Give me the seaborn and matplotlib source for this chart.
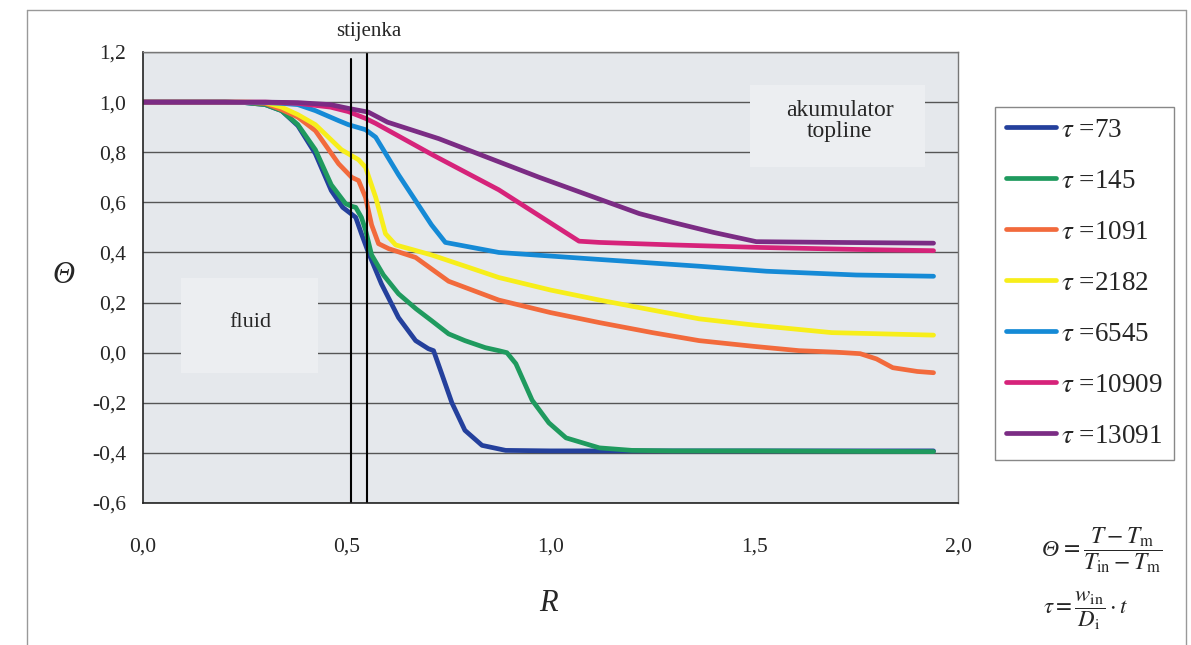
import numpy as np
import pandas as pd
import matplotlib
matplotlib.use("Agg")
import matplotlib.pyplot as plt
from matplotlib.ticker import FuncFormatter
from matplotlib.lines import Line2D
from matplotlib.patches import Rectangle
import seaborn as sns

# --- data ---
taus = [73, 145, 1091, 2182, 6545, 10909, 13091]

r_73 = [0, 0.1, 0.2, 0.25, 0.30, 0.34, 0.38, 0.423, 0.462, 0.49, 0.51, 0.522, 0.536, 0.553,
        0.585, 0.627, 0.669, 0.70, 0.713, 0.733, 0.758, 0.79, 0.832, 0.89, 1.0, 1.5, 1.94]
t_73 = [1.0, 1.0, 1.0, 0.998, 0.99, 0.966, 0.906, 0.794, 0.647, 0.58, 0.555, 0.54, 0.475, 0.40,
        0.275, 0.14, 0.048, 0.016, 0.008, -0.084, -0.2, -0.31, -0.37, -0.39, -0.392, -0.392, -0.392]

r_145 = [0, 0.2, 0.25, 0.30, 0.34, 0.38, 0.423, 0.462, 0.497, 0.51, 0.522, 0.536, 0.546, 0.561,
         0.59, 0.627, 0.67, 0.708, 0.75, 0.79, 0.84, 0.873, 0.893, 0.915, 0.955, 0.996, 1.038,
         1.12, 1.2, 1.3, 1.5, 1.94]
t_145 = [1.0, 1.0, 0.998, 0.99, 0.966, 0.91, 0.81, 0.67, 0.595, 0.585, 0.58, 0.54, 0.49, 0.39,
         0.31, 0.235, 0.175, 0.128, 0.075, 0.048, 0.02, 0.008, 0.0, -0.044, -0.19, -0.28, -0.34,
         -0.38, -0.39, -0.392, -0.392, -0.395]

r_1091 = [0, 0.2, 0.25, 0.30, 0.34, 0.38, 0.423, 0.48, 0.512, 0.529, 0.546, 0.561, 0.578, 0.603,
          0.669, 0.75, 0.873, 1.0, 1.12, 1.25, 1.365, 1.5, 1.61, 1.70, 1.76, 1.80, 1.84, 1.90, 1.94]
t_1091 = [1.0, 1.0, 0.999, 0.995, 0.97, 0.94, 0.886, 0.754, 0.70, 0.687, 0.62, 0.51, 0.435, 0.415,
          0.38, 0.285, 0.21, 0.16, 0.12, 0.08, 0.048, 0.025, 0.008, 0.002, -0.004, -0.025, -0.06,
          -0.075, -0.08]

r_2182 = [0, 0.2, 0.25, 0.30, 0.34, 0.38, 0.423, 0.487, 0.529, 0.546, 0.571, 0.595, 0.62, 0.708,
          0.80, 0.873, 1.0, 1.12, 1.25, 1.365, 1.5, 1.69, 1.94]
t_2182 = [1.0, 1.0, 1.0, 0.998, 0.98, 0.95, 0.91, 0.81, 0.77, 0.74, 0.62, 0.475, 0.43, 0.39,
          0.34, 0.30, 0.25, 0.21, 0.17, 0.135, 0.11, 0.08, 0.07]

r_6545 = [0, 0.2, 0.30, 0.34, 0.38, 0.423, 0.48, 0.504, 0.546, 0.571, 0.627, 0.708, 0.742, 0.873,
          1.12, 1.365, 1.53, 1.75, 1.94]
t_6545 = [1.0, 1.0, 0.998, 0.995, 0.99, 0.966, 0.926, 0.91, 0.89, 0.86, 0.71, 0.51, 0.44, 0.40,
          0.372, 0.345, 0.325, 0.31, 0.305]

r_10909 = [0, 0.2, 0.30, 0.38, 0.46, 0.504, 0.546, 0.571, 0.71, 0.873, 1.07, 1.12,
           1.3, 1.513, 1.75, 1.94]
t_10909 = [1.0, 1.0, 1.0, 0.995, 0.98, 0.962, 0.935, 0.915, 0.79, 0.65, 0.445, 0.44,
           0.43, 0.42, 0.412, 0.407]

r_13091 = [0, 0.2, 0.30, 0.38, 0.46, 0.504, 0.553, 0.60, 0.726, 0.972, 1.218, 1.3, 1.4,
           1.505, 1.7, 1.94]
t_13091 = [1.0, 1.0, 1.0, 0.998, 0.99, 0.975, 0.96, 0.92, 0.854, 0.70, 0.555, 0.52, 0.48,
           0.443, 0.44, 0.437]

wall_inner = 0.51
wall_outer = 0.55

colors = ["#24409c", "#1f9a5e", "#f26a3c", "#f7ee1a", "#158ad6", "#d6237a", "#7b2c84"]

series = [(r_73, t_73), (r_145, t_145), (r_1091, t_1091), (r_2182, t_2182),
          (r_6545, t_6545), (r_10909, t_10909), (r_13091, t_13091)]
labels = [rf"$\tau$ ={t}" for t in taus]

frames = []
for lab, (r, t) in zip(labels, series):
    frames.append(pd.DataFrame({"R": r, "theta": t, "tau": lab}))
df = pd.concat(frames, ignore_index=True)

sns.set_style("white")
plt.rcParams["font.family"] = ["Liberation Serif", "DejaVu Serif"]
plt.rcParams["mathtext.fontset"] = "stix"

fig = plt.figure(figsize=(11.91, 6.45), dpi=100)
ax = fig.add_axes([143 / 1191, 1 - 503 / 645, 815 / 1191, 451 / 645])
ax.set_facecolor("#e5e8ec")

sns.lineplot(data=df, x="R", y="theta", hue="tau", hue_order=labels, palette=colors,
             lw=3.4, sort=False, estimator=None, ax=ax, legend=False)

ax.set_xlim(0, 2.0)
ax.set_ylim(-0.6, 1.2)
ax.set_xticks(np.arange(0, 2.01, 0.5))
ax.set_yticks(np.arange(-0.6, 1.21, 0.2))
fmt = FuncFormatter(lambda v, p: f"{v:.1f}".replace(".", ","))
ax.xaxis.set_major_formatter(fmt)
ax.yaxis.set_major_formatter(fmt)
ax.yaxis.grid(True, color="#555555", lw=1.0)
ax.xaxis.grid(False)
ax.set_axisbelow(True)
ax.tick_params(axis="both", direction="out", length=7, width=1, labelsize=15.5, color="#333")
ax.tick_params(axis="x", pad=18)
ax.tick_params(axis="y", pad=5)
for s in ["left", "bottom"]:
    ax.spines[s].set_color("#222")
    ax.spines[s].set_linewidth(1.2)
for s in ["top", "right"]:
    ax.spines[s].set_color("#777")
    ax.spines[s].set_linewidth(1.0)

ax.set_xlabel("R", fontsize=22, fontstyle="italic")
ax.set_ylabel("Θ", fontsize=22, fontstyle="italic", rotation=0, va="center", ha="center")
ax.xaxis.set_label_coords(0.498, -0.19)
ax.yaxis.set_label_coords(-0.098, 0.505)

# wall lines
ax.axvline(wall_inner, ymin=0, ymax=0.985, color="black", lw=1.5)
ax.axvline(wall_outer, ymin=0, ymax=1.0, color="black", lw=1.5)
ax.text(0.555, 1.28, "stijenka", ha="center", va="center", fontsize=15, clip_on=False)

# light label boxes that cut the grid lines
ax.add_patch(Rectangle((0.094, -0.08), 0.336, 0.38, fc="#eceef1", ec="none", zorder=1))
ax.add_patch(Rectangle((1.49, 0.74), 0.43, 0.33, fc="#eceef1", ec="none", zorder=1))
ax.text(0.263, 0.12, "fluid", ha="center", va="center", fontsize=16, zorder=3)
ax.text(1.71, 0.925, "akumulator\ntopline", ha="center", va="center", fontsize=17,
        linespacing=1.05, zorder=3)

handles = [Line2D([], [], color=c, lw=3.4) for c in colors]
ax.legend(handles, labels, loc="upper left", bbox_to_anchor=(995 / 1191, 1 - 107 / 645),
          bbox_transform=fig.transFigure, borderaxespad=0, frameon=True, fancybox=False,
          edgecolor="#888888", facecolor="white", framealpha=1, fontsize=19.5,
          handlelength=1.85, handletextpad=0.2, labelspacing=0.96, borderpad=0.4)

fig.text(1050 / 1191, 1 - 550 / 645, "Θ", ha="center", va="center", fontsize=17,
         fontstyle="italic")
fig.text(1060 / 1191, 1 - 550 / 645,
         r"$= \dfrac{T - T_{\mathrm{m}}}{T_{\mathrm{in}} - T_{\mathrm{m}}}$",
         ha="left", va="center", fontsize=17)
fig.text(1043 / 1191, 1 - 611 / 645, r"$\tau = \dfrac{w_{\mathrm{in}}}{D_{\mathrm{i}}} \cdot t$",
         ha="left", va="center", fontsize=16.5)

# scanned page frame
fig.add_artist(Line2D([27 / 1191, 27 / 1191], [0, 1 - 10 / 645], transform=fig.transFigure,
                      color="#999", lw=1))
fig.add_artist(Line2D([27 / 1191, 1186 / 1191], [1 - 10 / 645, 1 - 10 / 645],
                      transform=fig.transFigure, color="#999", lw=1))
fig.add_artist(Line2D([1186 / 1191, 1186 / 1191], [0, 1 - 10 / 645], transform=fig.transFigure,
                      color="#999", lw=1))

fig.savefig("out.png", dpi=100)
